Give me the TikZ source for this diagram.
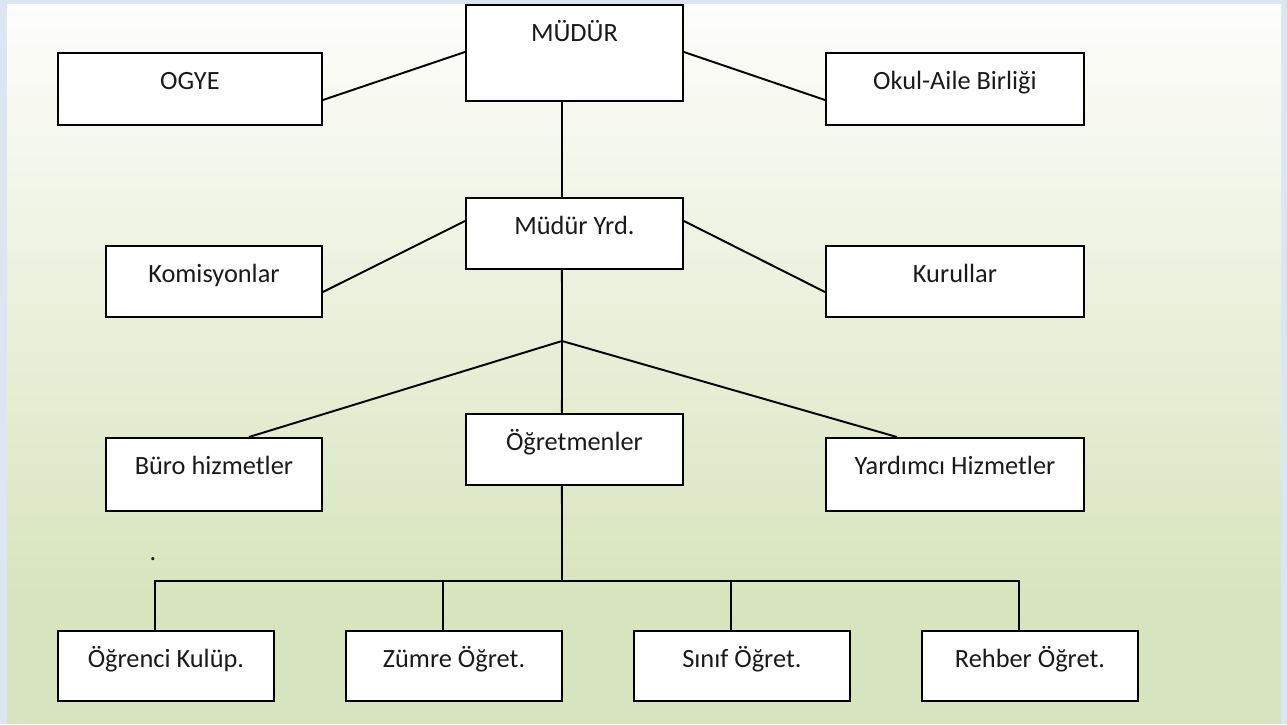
\documentclass[tikz,border=0pt]{standalone}
\usepackage{fontspec}
\setmainfont{Carlito}
\definecolor{cerceve}{HTML}{DCE6F2}
\definecolor{ustrenk}{HTML}{FDFDFB}
\definecolor{altrenk}{HTML}{D8E4BD}
\definecolor{yazi}{HTML}{1A1A1A}

\begin{document}
\begin{tikzpicture}[x=0.02cm, y=-0.02cm, line width=1.1pt,
    every node/.style={font=\fontsize{15}{18}\selectfont, text=yazi},
    kutu/.style={draw, fill=white, anchor=north west, inner sep=0pt, text height=0.74cm, minimum width=4.32cm},
    ince/.style={kutu, text depth=0.68cm},
    alt/.style={kutu, text depth=0.66cm}]
    \useasboundingbox (0,0) rectangle (1287,724);
    \fill[cerceve] (0,0) rectangle (1287,724);
    \shade[top color=ustrenk, bottom color=altrenk] (7,4) rectangle (1281,600);
    \fill[altrenk] (7,600) rectangle (1281,724);

    \node[kutu, text depth=1.18cm, minimum width=4.34cm] (mudur) at (465,4) {MÜDÜR};
    \node[kutu, text depth=0.70cm, minimum width=5.28cm] (ogye) at (57,52) {OGYE};
    \node[kutu, text depth=0.70cm, minimum width=5.16cm] (okul) at (825,52) {Okul-Aile Birliği};
    \node[ince, minimum width=4.34cm] (yrd) at (465,197) {Müdür Yrd.};
    \node[ince] (komisyon) at (105,245) {Komisyonlar};
    \node[ince, minimum width=5.16cm] (kurul) at (825,245) {Kurullar};
    \node[ince, minimum width=4.34cm] (ogretmen) at (465,413) {Öğretmenler};
    \node[kutu, text depth=0.72cm] (buro) at (105,437) {Büro hizmetler};
    \node[kutu, text depth=0.72cm, minimum width=5.16cm] (yardimci) at (825,437) {Yardımcı Hizmetler};
    \node[alt] (kulup) at (57,630) {Öğrenci Kulüp.};
    \node[alt] (zumre) at (345,630) {Zümre Öğret.};
    \node[alt] (sinif) at (633,630) {Sınıf Öğret.};
    \node[alt] (rehber) at (921,630) {Rehber Öğret.};
    \node[anchor=base, inner sep=0pt] (nokta) at (153,560) {.};
    \coordinate (dal) at (562,341);
    \coordinate (kol) at (562,581);

    \draw ([yshift=-0.96cm]mudur.north west) -- ([yshift=-0.96cm]ogye.north east);
    \draw ([yshift=-0.96cm]mudur.north east) -- ([yshift=-0.96cm]okul.north west);
    \draw ([xshift=-0.25cm]mudur.south) -- ([xshift=-0.25cm]yrd.north);
    \draw ([yshift=-0.48cm]yrd.north west) -- ([yshift=-0.94cm]komisyon.north east);
    \draw ([yshift=-0.48cm]yrd.north east) -- ([yshift=-0.94cm]kurul.north west);
    \draw ([xshift=-0.25cm]yrd.south) -- (dal) -- ([xshift=-0.25cm]ogretmen.north);
    \draw ([xshift=0.7cm]buro.north) -- (dal) -- ([xshift=1.44cm]yardimci.north west);
    \draw ([xshift=-0.25cm]ogretmen.south) -- (kol);
    \foreach \n in {kulup, zumre, sinif, rehber}
      \draw ([xshift=-0.22cm]\n.north) |- (kol);
  \end{tikzpicture}
\end{document}
